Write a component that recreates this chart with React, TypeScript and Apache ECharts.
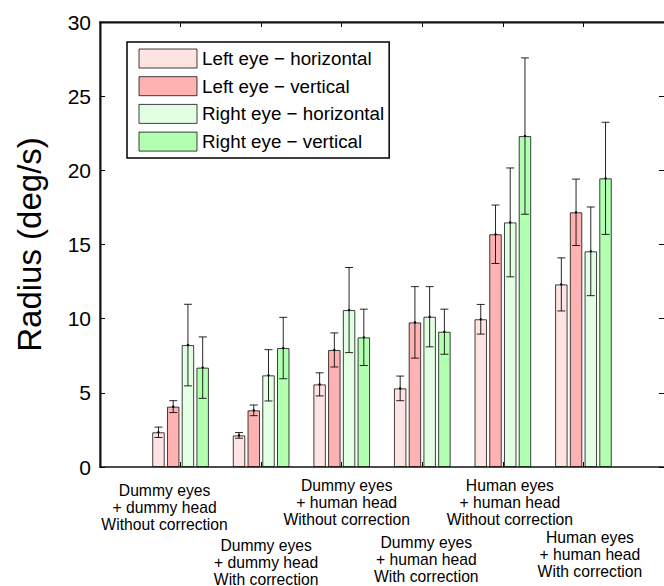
import React, { useEffect, useRef } from "react";
import * as echarts from "echarts";

// ---------- data ----------
const groupLabels = [
  "Dummy eyes\n+ dummy head\nWithout correction",
  "Dummy eyes\n+ dummy head\nWith correction",
  "Dummy eyes\n+ human head\nWithout correction",
  "Dummy eyes\n+ human head\nWith correction",
  "Human eyes\n+ human head\nWithout correction",
  "Human eyes\n+ human head\nWith correction",
];
const seriesNames = [
  "Left eye \u2212 horizontal",
  "Left eye \u2212 vertical",
  "Right eye \u2212 horizontal",
  "Right eye \u2212 vertical",
];
const leftH = [2.34, 2.13, 5.57, 5.3, 9.96, 12.31];
const leftHErr = [0.35, 0.19, 0.78, 0.83, 1.0, 1.79];
const leftV = [4.07, 3.82, 7.89, 9.75, 15.69, 17.17];
const leftVErr = [0.4, 0.36, 1.15, 2.41, 1.97, 2.24];
const rightH = [8.22, 6.18, 10.58, 10.13, 16.49, 14.54];
const rightHErr = [2.75, 1.73, 2.87, 2.03, 3.67, 2.99];
const rightV = [6.7, 8.02, 8.74, 9.12, 22.31, 19.46];
const rightVErr = [2.07, 2.07, 1.9, 1.52, 5.27, 3.78];
const yMin = 0;
const yMax = 30;
const yStep = 5;

// ---------- style / layout ----------
const colors = ["#FFE3E3", "#FFB2B2", "#E3FFE3", "#B2FFB2"];
const FONT = "Liberation Sans, Arial, Helvetica, sans-serif";
const BAR_FRAC = 0.155; // bar width as fraction of category band
const GAP_FRAC = 0.18; // gap between bars as fraction of bar width
const labelDx = [-16, 5, 5, 4, 7, 6.5];
const labelDy = [23, 78, 18, 75, 18, 70];

function mkAxisLine(show = true) {
  return { show, onZero: false, lineStyle: { color: "#111", width: 1.5 } };
}
function mkTick(extra: any = {}) {
  return { show: true, inside: true, length: 5, lineStyle: { color: "#000", width: 1 }, ...extra };
}

export default function App() {
  const ref = useRef<HTMLDivElement>(null);
  useEffect(() => {
    if (!ref.current) return;
    const chart = echarts.init(ref.current, null, { renderer: "svg" });
    const values = [leftH, leftV, rightH, rightV];
    const errs = [leftHErr, leftVErr, rightHErr, rightVErr];
    const cats = ["", ...groupLabels, " "];

    const barSeries = values.map((vals, j) => ({
      name: seriesNames[j],
      type: "bar",
      xAxisIndex: 0,
      yAxisIndex: 0,
      data: ["-", ...vals, "-"],
      barWidth: BAR_FRAC * 100 + "%",
      barGap: GAP_FRAC * 100 + "%",
      itemStyle: {
        color: colors[j],
        borderColor: "rgba(0,0,0,0.75)",
        borderWidth: 1,
      },
      z: 2,
    }));

    const errData: number[][] = [];
    values.forEach((vals, j) => {
      vals.forEach((v, i) => errData.push([i + 1, v, errs[j][i], j]));
    });

    const errSeries = {
      type: "custom",
      name: "err",
      xAxisIndex: 0,
      yAxisIndex: 0,
      data: errData,
      encode: { x: 0, y: 1 },
      z: 5,
      silent: true,
      renderItem: (params: any, api: any) => {
        const cat = api.value(0);
        const v = api.value(1);
        const e = api.value(2);
        const j = api.value(3);
        const band = api.size([1, 0])[0];
        const bw = band * BAR_FRAC;
        const slot = bw * (1 + GAP_FRAC);
        const c = api.coord([cat, v]);
        const hi = api.coord([cat, v + e]);
        const lo = api.coord([cat, v - e]);
        const x = c[0] + (j - 1.5) * slot;
        const cap = 4;
        const mk = () => ({ stroke: "rgba(0,0,0,0.85)", lineWidth: 1, fill: null });
        return {
          type: "group",
          children: [
            { type: "line", shape: { x1: x, y1: hi[1], x2: x, y2: lo[1] }, style: mk() },
            { type: "line", shape: { x1: x - cap, y1: hi[1], x2: x + cap, y2: hi[1] }, style: mk() },
            { type: "line", shape: { x1: x - cap, y1: lo[1], x2: x + cap, y2: lo[1] }, style: mk() },
            { type: "circle", shape: { cx: x, cy: c[1], r: 1.2 }, style: { fill: "#000" } },
          ],
        };
      },
    };

    chart.setOption({
      animation: false,
      textStyle: { fontFamily: FONT },
      grid: {
        left: 100,
        top: 22,
        right: 0,
        bottom: 119,
        containLabel: false,
      },
      legend: {
        data: seriesNames,
        orient: "vertical",
        left: 127,
        top: 42,
        padding: [6.5, 5, 6.5, 11.5],
        itemWidth: 58,
        itemHeight: 19,
        itemGap: 7.7,
        icon: "rect",
        backgroundColor: "#fff",
        borderColor: "#000",
        borderWidth: 1.5,
        borderRadius: 0,
        itemStyle: { borderColor: "rgba(0,0,0,0.75)", borderWidth: 1 },
        textStyle: { fontSize: 18.8, color: "#000", fontFamily: FONT, lineHeight: 19 },
        selectedMode: false,
      },
      xAxis: [
        {
          type: "category",
          data: cats,
          boundaryGap: false,
          position: "bottom",
          axisLine: mkAxisLine(),
          axisTick: mkTick({ interval: 0 }),
          axisLabel: { show: false },
        },
        {
          type: "category",
          data: cats,
          boundaryGap: false,
          position: "top",
          axisLine: mkAxisLine(),
          axisTick: mkTick({ interval: 0 }),
          axisLabel: { show: false },
        },
      ],
      yAxis: [
        {
          type: "value",
          min: yMin,
          max: yMax,
          interval: yStep,
          position: "left",
          name: "Radius (deg/s)",
          nameLocation: "middle",
          nameGap: 54,
          nameTextStyle: { fontSize: 33, color: "#000", fontFamily: FONT },
          axisLine: mkAxisLine(),
          axisTick: mkTick(),
          axisLabel: { fontSize: 21, color: "#000", margin: 9, fontFamily: FONT },
          splitLine: { show: false },
        },
        {
          type: "value",
          min: yMin,
          max: yMax,
          interval: yStep,
          position: "right",
          axisLine: mkAxisLine(false),
          axisTick: mkTick(),
          axisLabel: { show: false },
          splitLine: { show: false },
        },
      ],
      series: [...barSeries, errSeries],
    });

    const base = chart.convertToPixel({ gridIndex: 0 }, [0, yMin]) as number[];
    const corner = chart.convertToPixel({ gridIndex: 0 }, [cats.length - 1, yMax]) as number[];
    const graphics: any[] = groupLabels.map((text, i) => {
      const p = chart.convertToPixel({ gridIndex: 0 }, [i + 1, yMin]) as number[];
      return {
        type: "text",
        x: p[0] + labelDx[i],
        y: base[1] + labelDy[i] - 8.5,
        silent: true,
        style: {
          text,
          fill: "#000",
          fontSize: 15.7,
          fontFamily: FONT,
          lineHeight: 17,
          align: "center",
          verticalAlign: "top",
        },
      };
    });
    // plot frame (left edge and top edge), from the grid's own corners, on a top layer
    const x0 = Math.round(base[0]) + 0.75;
    const y0 = Math.round(corner[1]) + 0.75;
    graphics.push({
      type: "line",
      zlevel: 10,
      z: 100,
      silent: true,
      shape: { x1: x0, y1: y0, x2: x0, y2: base[1] },
      style: { stroke: "#111", lineWidth: 1.5 },
    });
    graphics.push({
      type: "line",
      zlevel: 10,
      z: 100,
      silent: true,
      shape: { x1: x0, y1: y0, x2: corner[0], y2: y0 },
      style: { stroke: "#111", lineWidth: 1.5 },
    });
    chart.setOption({ graphic: graphics });

    return () => chart.dispose();
  }, []);
  return (
    <div
      ref={ref}
      style={{ position: "fixed", left: 0, top: 0, width: 664, height: 586, background: "#fff" }}
    />
  );
}
